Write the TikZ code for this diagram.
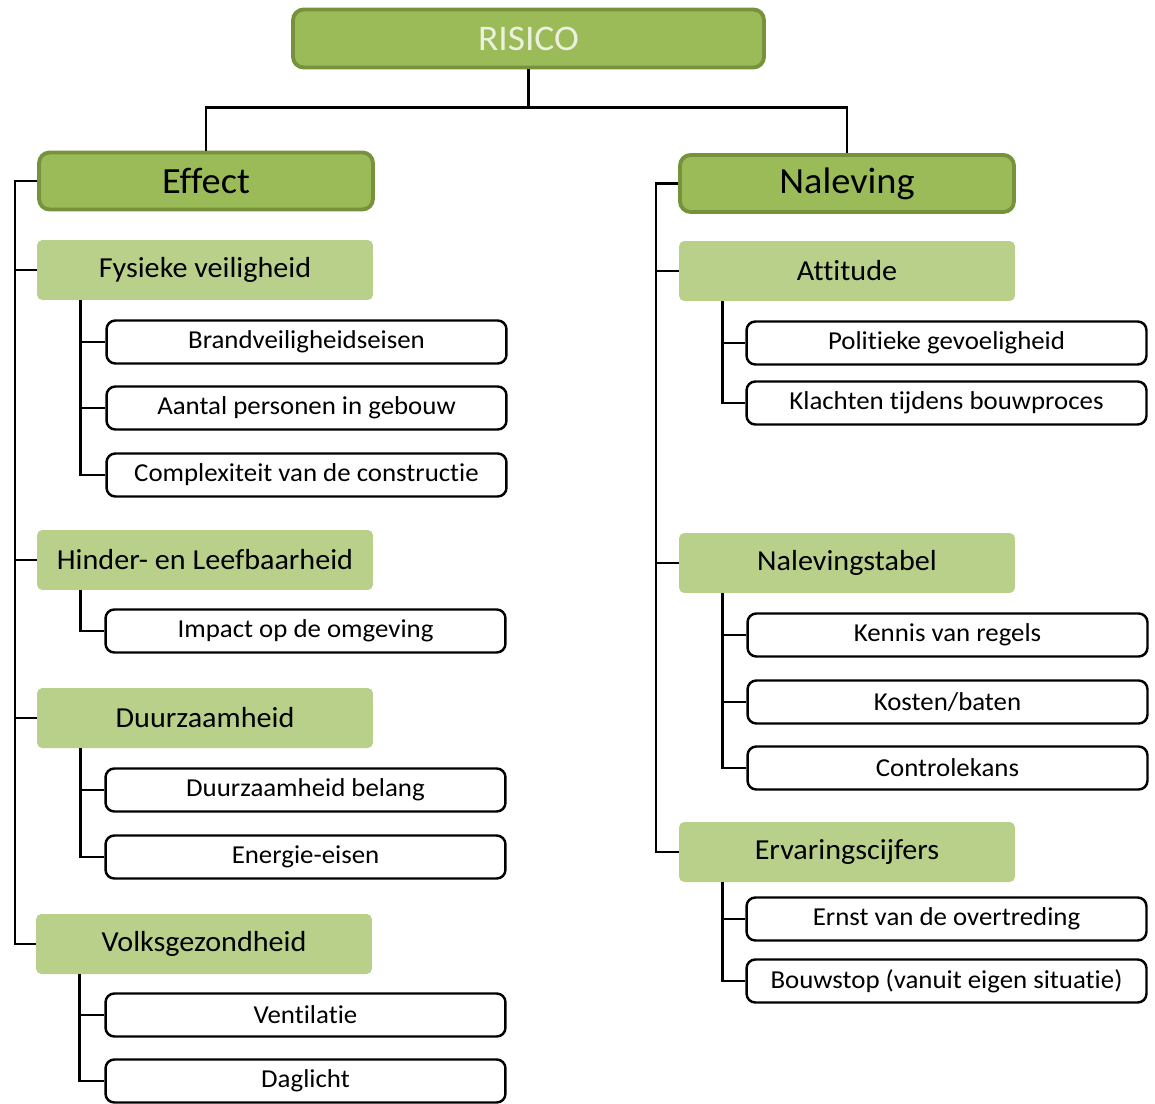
\documentclass[tikz,border=0pt]{standalone}
\usepackage{fontspec}
\setmainfont{Carlito}[Ligatures=NoCommon, FakeStretch=1.04]
\usepackage{xcolor}
\usetikzlibrary{positioning}

\definecolor{olive}{HTML}{9BBB59}
\definecolor{olivedark}{HTML}{76923C}
\definecolor{olivelight}{HTML}{B9D08A}
\definecolor{paletext}{HTML}{EBF1DE}

\begin{document}
\begin{tikzpicture}[x=0.02cm, y=-0.02cm,
  top/.style={rectangle, draw=olivedark, line width=2.2pt, rounded corners=6pt, fill=olive, minimum width=9.42cm, minimum height=1.16cm, font=\fontsize{20.5}{24}\selectfont, text=paletext},
  head/.style={rectangle, draw=olivedark, line width=2.2pt, rounded corners=6pt, fill=olive, minimum width=6.68cm, minimum height=1.14cm, font=\fontsize{21}{24}\selectfont},
  cat/.style={rectangle, fill=olivelight, rounded corners=3pt, minimum width=6.72cm, minimum height=1.2cm, font=\fontsize{16.5}{20}\selectfont},
  leaf/.style={rectangle, draw=black, line width=1.4pt, rounded corners=5pt, fill=white, minimum width=8.0cm, minimum height=0.86cm, font=\fontsize{14.7}{17}\selectfont},
  link/.style={line width=1.4pt, black}
]
\useasboundingbox (0,0) rectangle (1155,1104);
\node[top] (risico) at (528.5,38.5) {RISICO};
\node[head] (effect) at (206,181) {Effect};
\node[head] (naleving) at (847,183.5) {Naleving};
\draw[link] (risico.south) -- ++(0,38) -| (effect.north);
\draw[link] (risico.south) -- ++(0,38) -| (naleving.north);
% effect
\node[cat] (fys) at (205,270) {Fysieke veiligheid};
\node[leaf] (brand) at (306.5,342) {Brandveiligheidseisen};
\node[leaf] (aantal) at (306.5,408) {Aantal personen in gebouw};
\node[leaf] (complex) at (306.5,475) {Complexiteit van de constructie};
\node[cat] (hinder) at (205,560) {Hinder- en Leefbaarheid};
\node[leaf] (impact) at (305.5,631) {Impact op de omgeving};
\node[cat] (duurz) at (205,718) {Duurzaamheid};
\node[leaf] (belang) at (305.5,790) {Duurzaamheid belang};
\node[leaf] (energie) at (305.5,857) {Energie-eisen};
\node[cat] (volks) at (204,944) {Volksgezondheid};
\node[leaf] (vent) at (305.5,1015) {Ventilatie};
\node[leaf] (dag) at (305.5,1081) {Daglicht};
% naleving
\node[cat] (attitude) at (847,271) {Attitude};
\node[leaf] (politiek) at (946.5,343) {Politieke gevoeligheid};
\node[leaf] (klacht) at (946.5,403) {Klachten tijdens bouwproces};
\node[cat] (tabel) at (847,563) {Nalevingstabel};
\node[leaf] (kennis) at (947.5,635) {Kennis van regels};
\node[leaf] (kosten) at (947.5,702) {Kosten/baten};
\node[leaf] (controle) at (947.5,768) {Controlekans};
\node[cat] (ervaring) at (847,852) {Ervaringscijfers};
\node[leaf] (ernst) at (946.5,919) {Ernst van de overtreding};
\node[leaf] (bouwstop) at (946.5,981) {Bouwstop (vanuit eigen situatie)};
\foreach \a/\b in {effect/fys,effect/hinder,effect/duurz,effect/volks,naleving/attitude,naleving/tabel,naleving/ervaring}
  \draw[link] (\a.west) -- ++(-22,0) |- (\b.west);
\foreach \a/\b in {fys/brand,fys/aantal,fys/complex,hinder/impact,duurz/belang,duurz/energie,volks/vent,volks/dag,attitude/politiek,attitude/klacht,tabel/kennis,tabel/kosten,tabel/controle,ervaring/ernst,ervaring/bouwstop}
  \draw[link] (\a.south west) ++(44,0) |- (\b.west);
\end{tikzpicture}
\end{document}
